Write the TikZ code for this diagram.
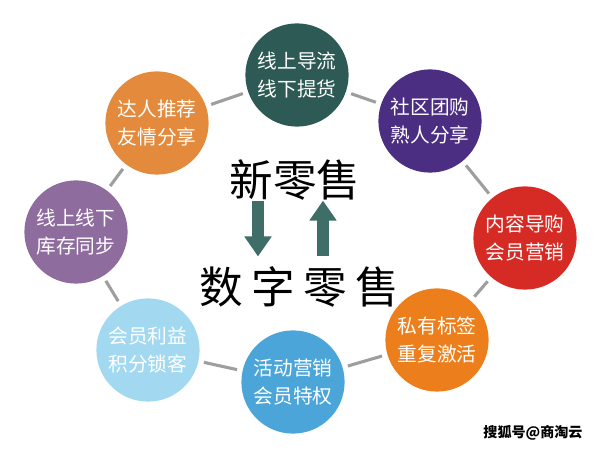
\documentclass[tikz,border=0pt]{standalone}
\usepackage{fontspec}
\newfontfamily\cjk{Noto Sans CJK SC}
\usetikzlibrary{arrows.meta}
\definecolor{guidecol}{HTML}{2D5A54}
\definecolor{groupcol}{HTML}{4B2D82}
\definecolor{contentcol}{HTML}{D62B24}
\definecolor{tagcol}{HTML}{EC7F1C}
\definecolor{eventcol}{HTML}{4BA5D9}
\definecolor{membercol}{HTML}{A2D9F1}
\definecolor{stockcol}{HTML}{8E6C9E}
\definecolor{expertcol}{HTML}{E38A3C}
\definecolor{flowcol}{HTML}{3F6E68}
\begin{document}
\begin{tikzpicture}[x=0.025cm, y=-0.025cm,
    ring/.style={circle, minimum size=2.58cm, inner sep=0pt, outer sep=0pt,
      text=white, align=center, font=\cjk\fontsize{14}{20}\selectfont},
    link/.style={draw=black!38, line width=2.2pt, shorten <=4pt, shorten >=4pt},
    flow/.style={draw=flowcol, line width=0.3cm, -{Triangle[length=0.5cm, width=0.65cm]}},
    title/.style={inner sep=0pt, font=\cjk\fontsize{31}{31}\selectfont}]
  \useasboundingbox (0,0) rectangle (600,451);
  % ring of circles
  \node[ring, fill=guidecol] (guide) at (297,75) {线上导流\\线下提货};
  \node[ring, fill=groupcol] (group) at (430,121) {社区团购\\熟人分享};
  \node[ring, fill=contentcol] (content) at (525,238) {内容导购\\会员营销};
  \node[ring, fill=tagcol] (tag) at (437,340) {私有标签\\重复激活};
  \node[ring, fill=eventcol] (event) at (293,382) {活动营销\\会员特权};
  \node[ring, fill=membercol] (member) at (148,350) {会员利益\\积分锁客};
  \node[ring, fill=stockcol] (stock) at (76,232) {线上线下\\库存同步};
  \node[ring, fill=expertcol] (expert) at (157,123) {达人推荐\\友情分享};
  \foreach \a/\b in {guide/group, group/content, content/tag, tag/event,
      event/member, member/stock, stock/expert, expert/guide}
    \draw[link] (\a) -- (\b);
  % centre
  \node[title] (newretail) at (295,180) {新零售};
  \node[title] (digretail) at (299,287) {数\hspace{6pt}字\hspace{6pt}零\hspace{6pt}售};
  \coordinate (downx) at (258,0);
  \coordinate (upx) at (323,0);
  \draw[flow] (newretail.south -| downx) -- ([yshift=7pt]digretail.north -| downx);
  \draw[flow] ([yshift=7pt]digretail.north -| upx) -- (newretail.south -| upx);
  \node[font=\cjk\bfseries\fontsize{10}{10}\selectfont] (mark) at (533,433) {搜狐号@商淘云};
\end{tikzpicture}
\end{document}
